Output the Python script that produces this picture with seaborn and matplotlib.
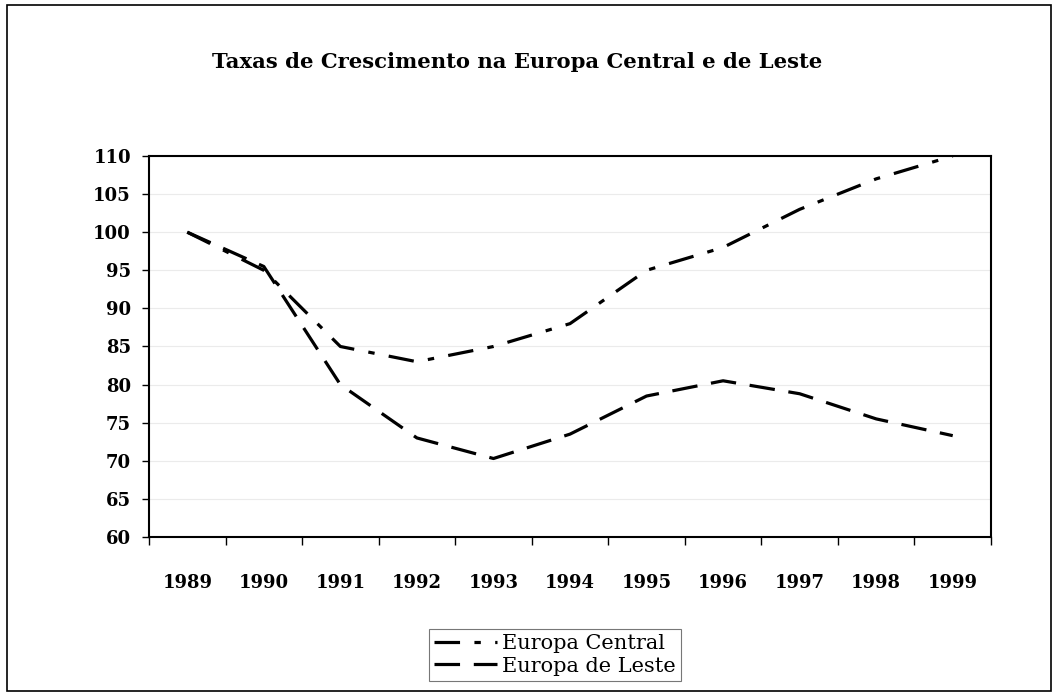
import numpy as np
import pandas as pd
import seaborn as sns
import matplotlib
matplotlib.use("Agg")
import matplotlib.pyplot as plt
from matplotlib.patches import Rectangle
from matplotlib.lines import Line2D
from matplotlib.ticker import MultipleLocator, FixedLocator

years = ["1989", "1990", "1991", "1992", "1993", "1994", "1995", "1996", "1997", "1998", "1999"]
europa_central = [100, 95, 85, 83, 85, 88, 95, 98, 103, 107, 110]
europa_leste = [100, 95.5, 80, 73, 70.3, 73.5, 78.5, 80.5, 78.8, 75.5, 73.3]
series_names = ["Europa Central", "Europa de Leste"]
title = "Taxas de Crescimento na Europa Central e de Leste"

df = pd.DataFrame({
    "x": list(range(len(years))) * 2,
    "valor": europa_central + europa_leste,
    "serie": [series_names[0]] * len(years) + [series_names[1]] * len(years),
})

sns.set_theme(style="white")
plt.rcParams["font.family"] = ["DejaVu Serif", "Liberation Serif"]
plt.rcParams["text.color"] = "black"
plt.rcParams["xtick.color"] = "black"
plt.rcParams["ytick.color"] = "black"
plt.rcParams["xtick.labelcolor"] = "black"
plt.rcParams["ytick.labelcolor"] = "black"

fig = plt.figure(figsize=(10.61, 6.97), dpi=100)
ax = fig.add_axes([149 / 1061, 1 - 537 / 697, (991 - 149) / 1061, (537 - 156) / 697])

dash_c = (8, 4.5, 2, 4.5)
dash_l = (8, 4.3)
sns.lineplot(data=df, x="x", y="valor", hue="serie", style="serie",
             palette=["black", "black"],
             dashes={series_names[0]: dash_c, series_names[1]: dash_l},
             linewidth=2.3, ax=ax, legend=False, sort=False)

ax.set_xlim(-0.5, len(years) - 0.5)
ax.set_ylim(60, 110)
ax.yaxis.set_major_locator(MultipleLocator(5))
ax.set_xticks(range(len(years)))
ax.set_xticklabels(years)
ax.xaxis.set_minor_locator(FixedLocator(np.arange(-0.5, len(years), 1)))
ax.tick_params(axis="x", which="major", length=0, pad=27, labelsize=13, labelcolor="black")
ax.tick_params(axis="x", which="minor", length=6, width=1, direction="out", bottom=True, color="black")
ax.tick_params(axis="y", which="major", length=5, width=1, direction="out", left=True, pad=8, labelsize=13, color="black", labelcolor="black")
for lab in ax.get_xticklabels() + ax.get_yticklabels():
    lab.set_fontweight("bold")
ax.set_xlabel("")
ax.set_ylabel("")
ax.grid(axis="y", color="#ebebeb", linewidth=0.8)
for s in ax.spines.values():
    s.set_color("black")
    s.set_linewidth(1.5)

handles = [
    Line2D([], [], color="black", linewidth=2.3, dashes=dash_c),
    Line2D([], [], color="black", linewidth=2.3, dashes=dash_l),
]
leg = fig.legend(handles, series_names, loc="center", bbox_to_anchor=(555 / 1061, 1 - 655 / 697),
                 frameon=True, fancybox=False, edgecolor="#555555", fontsize=15,
                 handlelength=3.0, handletextpad=0.25, borderpad=0.25, labelspacing=0.15)
leg.get_frame().set_linewidth(0.8)
for t in leg.get_texts():
    t.set_color("black")

fig.text(517 / 1061, 1 - 62 / 697, title, ha="center", va="center", fontsize=15.2,
         fontweight="bold", color="black")

fig.patches.append(Rectangle((7 / 1061, 1 - 691 / 697), 1044 / 1061, 686 / 697,
                             transform=fig.transFigure, fill=False, edgecolor="black", linewidth=1.2))

fig.savefig("out.png", dpi=100)
